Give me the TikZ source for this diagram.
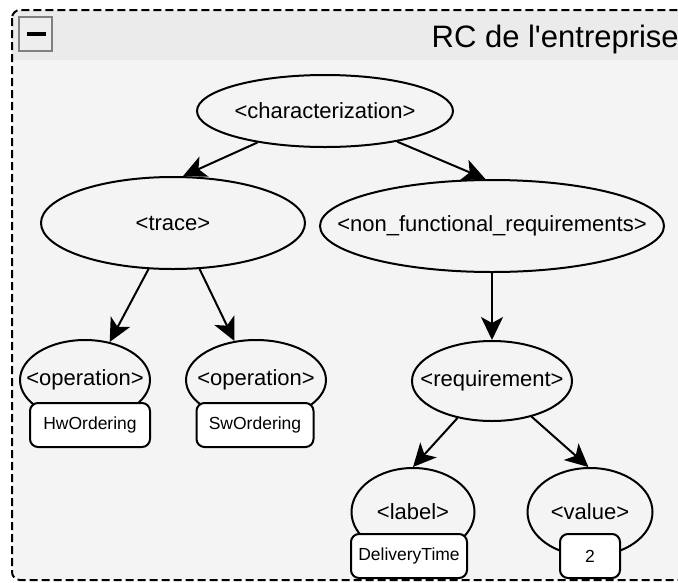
\documentclass[tikz,border=0pt]{standalone}
\usepackage{fontspec}
\setmainfont{Liberation Sans}
\usetikzlibrary{arrows.meta,shapes.geometric}
\definecolor{headgray}{HTML}{EBEBEB}
\definecolor{bodygray}{HTML}{F4F4F4}
\begin{document}
\begin{tikzpicture}[x=1pt,y=-1pt,
  elem/.style={draw,ellipse,line width=2pt,inner sep=0pt,fill=bodygray},
  elemtext/.style={font=\fontsize{22}{26}\selectfont},
  valbox/.style={draw,fill=white,rounded corners=8pt,line width=2pt,
    minimum height=44pt,inner sep=0pt,font=\fontsize{17.5}{21}\selectfont},
  arr/.style={-{Stealth[length=23pt,width=22pt,inset=6pt]},line width=2pt}]
  \useasboundingbox (0,0) rectangle (678,582);
  \clip (0,0) rectangle (678,582);
  \fill[white] (0,0) rectangle (678,582);
  \begin{scope}
    \clip[rounded corners=8pt] (12,10) rectangle (720,580);
    \fill[bodygray] (12,10) rectangle (720,580);
    \fill[headgray] (12,10) rectangle (720,60);
  \end{scope}
  \draw[line width=2pt,dash pattern=on 8pt off 4pt,rounded corners=8pt] (12,10) rectangle (720,580);
  \draw[fill=headgray!90!black!40!white,draw=gray,line width=1.5pt] (19,17) rectangle (52,51);
  \draw[line width=3.5pt] (27,34) -- (46,34);
  \node[anchor=base east,inner sep=0pt,font=\fontsize{31}{36}\selectfont] (title) at (679,47) {RC de l\textquotesingle entreprise};

  \node[elem,minimum width=256pt,minimum height=72pt,label={[elemtext]center:{<characterization>}}] (char) at (325,111) {};
  \node[elem,minimum width=264pt,minimum height=92pt,label={[elemtext]center:{<trace>}}] (trace) at (173,223) {};
  \node[elem,minimum width=344pt,minimum height=92pt,label={[elemtext]center:{<non\_functional\_requirements>}}] (nfr) at (492,226) {};
  \node[elem,minimum width=130pt,minimum height=80pt,label={[elemtext]center:{<operation>}}] (op1) at (85,380) {};
  \node[elem,minimum width=140pt,minimum height=80pt,label={[elemtext]center:{<operation>}}] (op2) at (256,380) {};
  \node[elem,minimum width=160pt,minimum height=80pt,label={[elemtext]center:{<requirement>}}] (req) at (492,381) {};
  \node[elem,minimum width=123pt,minimum height=88pt,label={[elemtext]center:{<label>}}] (lab) at (413,512) {};
  \node[elem,minimum width=125pt,minimum height=88pt,label={[elemtext]center:{<value>}}] (val) at (590,512) {};

  \node[valbox,minimum width=120pt] (hw) at (90,425) {HwOrdering};
  \node[valbox,minimum width=117pt] (sw) at (255,425) {SwOrdering};
  \node[valbox,minimum width=116pt] (dt) at (409,556) {DeliveryTime};
  \node[valbox,minimum width=60pt] (two) at (590,556) {2};

  \draw[arr] (char.205) -- (trace.78);
  \draw[arr] (char.337) -- (nfr.98);
  \draw[arr] (trace.242) -- (op1.57);
  \draw[arr] (trace.300) -- (op2.119);
  \draw[arr] (nfr.south) -- (req.north);
  \draw[arr] (req.227) -- (lab.90);
  \draw[arr] (req.318) -- (val.92);
\end{tikzpicture}
\end{document}
